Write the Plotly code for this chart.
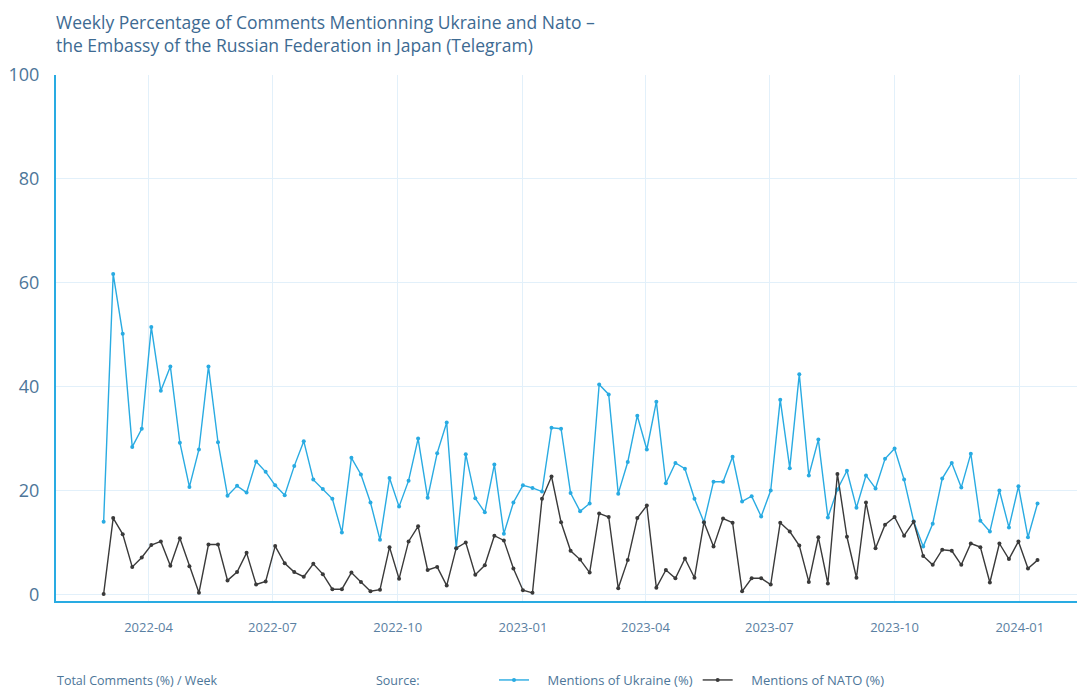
import pandas as pd
import plotly.graph_objects as go

# weekly share of comments (%)
weeks = pd.date_range("2022-02-27", periods=99, freq="7D")

ukraine = [
    14.0, 61.7, 50.2, 28.4, 31.9, 51.5, 39.2, 43.9, 29.2, 20.7,
    27.9, 43.9, 29.3, 19.0, 20.9, 19.6, 25.6, 23.6, 21.0, 19.1,
    24.7, 29.5, 22.1, 20.3, 18.4, 11.9, 26.3, 23.1, 17.7, 10.5,
    22.4, 16.9, 21.9, 30.0, 18.6, 27.2, 33.1, 8.9, 27.0, 18.5,
    15.8, 25.0, 11.7, 17.7, 21.0, 20.5, 19.8, 32.1, 31.9, 19.5,
    16.0, 17.5, 40.4, 38.5, 19.4, 25.5, 34.4, 27.9, 37.1, 21.4,
    25.3, 24.2, 18.4, 13.9, 21.7, 21.7, 26.5, 17.9, 18.9, 15.0,
    20.0, 37.5, 24.3, 42.4, 22.9, 29.8, 14.8, 20.2, 23.8, 16.7,
    22.9, 20.4, 26.1, 28.1, 22.1, 14.1, 9.2, 13.6, 22.3, 25.3,
    20.6, 27.1, 14.2, 12.1, 20.0, 12.9, 20.8, 11.0, 17.5,
]

nato = [
    0.1, 14.7, 11.6, 5.3, 7.1, 9.5, 10.2, 5.5, 10.8, 5.4,
    0.3, 9.6, 9.6, 2.7, 4.3, 8.0, 1.9, 2.5, 9.3, 6.0,
    4.3, 3.4, 5.9, 3.9, 1.0, 1.0, 4.2, 2.4, 0.6, 0.9,
    9.1, 3.0, 10.2, 13.1, 4.7, 5.3, 1.7, 8.9, 10.0, 3.8,
    5.6, 11.3, 10.4, 5.0, 0.8, 0.3, 18.4, 22.7, 13.9, 8.4,
    6.7, 4.2, 15.6, 14.9, 1.2, 6.6, 14.7, 17.1, 1.3, 4.7,
    3.1, 6.9, 3.2, 13.9, 9.2, 14.6, 13.8, 0.6, 3.1, 3.1,
    1.9, 13.8, 12.1, 9.4, 2.4, 11.0, 2.1, 23.2, 11.1, 3.2,
    17.7, 8.9, 13.4, 14.9, 11.3, 14.0, 7.4, 5.7, 8.6, 8.4,
    5.7, 9.8, 9.1, 2.3, 9.8, 6.8, 10.2, 5.0, 6.6,
]

y_ticks = [0, 20, 40, 60, 80, 100]

blue = "#29abe2"
dark = "#3a3a3a"
text_col = "#4d7699"
pad = "\u00a0" * 4  # extra room between legend symbol and label

fig = go.Figure()
fig.add_trace(go.Scatter(
    x=weeks, y=ukraine, mode="lines+markers", name=pad + "Mentions of Ukraine (%)",
    line=dict(color=blue, width=1.4), marker=dict(color=blue, size=4),
))
fig.add_trace(go.Scatter(
    x=weeks, y=nato, mode="lines+markers", name=pad + "Mentions of NATO (%)",
    line=dict(color=dark, width=1.4), marker=dict(color=dark, size=4),
))

fig.update_layout(
    width=1079, height=689,
    margin=dict(l=56, r=2, t=75, b=88),
    paper_bgcolor="white", plot_bgcolor="white",
    font=dict(family="Open Sans", color=text_col),
    title=dict(
        text="Weekly Percentage of Comments Mentionning Ukraine and Nato –<br>"
             "the Embassy of the Russian Federation in Japan (Telegram)",
        font=dict(size=17.5, color="#3d6a92"),
        xref="paper", x=0, xanchor="left",
        yref="container", y=1 - 29 / 689, yanchor="top",
    ),
    showlegend=True,
    legend=dict(
        orientation="h", xref="container", yref="container",
        x=494 / 1079, xanchor="left", y=9 / 689, yanchor="middle",
        font=dict(size=13, color=text_col), bgcolor="rgba(0,0,0,0)",
    ),
)

fig.update_xaxes(
    range=["2022-01-23", "2024-02-12"],
    tickformat="%Y-%m", dtick="M3", tick0="2022-01-01",
    showgrid=True, gridcolor="#e2f0fa", gridwidth=1,
    showline=True, linecolor=blue, linewidth=2,
    ticks="", ticklabelstandoff=13,
    tickfont=dict(size=13, color="#5a80a2"),
    zeroline=False,
)
fig.update_yaxes(
    range=[-1.27, 100], tickvals=y_ticks,
    showgrid=True, gridcolor="#e2f0fa", gridwidth=1,
    showline=True, linecolor=blue, linewidth=2,
    ticks="", ticklabelstandoff=11,
    tickfont=dict(size=18, color=text_col),
    zeroline=False,
)

# footer texts next to the legend (paper coords: plot spans px 56..1077, 75..601)
footer_y = (601 - 680) / 526
fig.add_annotation(
    text="Total Comments (%) / Week", xref="paper", yref="paper",
    x=-1 / 1021, y=footer_y, xanchor="left", yanchor="middle", showarrow=False,
    font=dict(size=12.5, color=text_col),
)
fig.add_annotation(
    text="Source:", xref="paper", yref="paper",
    x=(374 - 56) / 1021, y=footer_y, xanchor="left", yanchor="middle", showarrow=False,
    font=dict(size=12.5, color=text_col),
)

# drop the default page margin so the figure sits at the window's corner
fig.write_html(
    "out.html",
    config={"displayModeBar": False},
    post_script="document.body.style.margin='0';document.body.style.overflow='hidden';",
)
